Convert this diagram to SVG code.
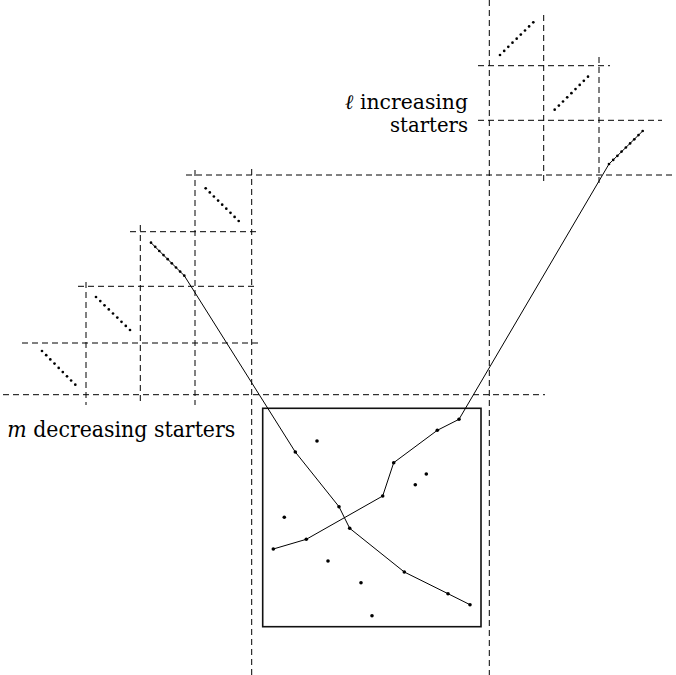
<svg xmlns="http://www.w3.org/2000/svg" width="676" height="675" viewBox="0 0 676 675">
<style>
.grid line{stroke:#000;stroke-width:1;stroke-dasharray:6 4;fill:none}
.box{fill:none;stroke:#111;stroke-width:1.6}
.conn{fill:none;stroke:#000;stroke-width:1}
.sd{fill:#000}
.pt{fill:#000}
.lbl{font-family:"DejaVu Serif","Liberation Serif",serif;font-size:22px;fill:#000}
.lbl2{font-family:"DejaVu Serif","Liberation Serif",serif;font-size:20.5px;fill:#000}
</style>
<defs>
<circle id="s" r="1.35" class="sd"/>
<circle id="p" r="1.8" class="pt"/>
</defs>
<rect width="676" height="675" fill="#fff"/>
<g id="grid" class="grid">
<line x1="3" y1="394.7" x2="545" y2="394.7"/>
<line x1="186" y1="175" x2="676" y2="175"/>
<line x1="130" y1="231.7" x2="258" y2="231.7"/>
<line x1="78" y1="286.3" x2="258" y2="286.3"/>
<line x1="22" y1="343" x2="258" y2="343"/>
<line x1="478" y1="65.7" x2="610" y2="65.7"/>
<line x1="478" y1="120.3" x2="662" y2="120.3"/>
<line x1="86" y1="282" x2="86" y2="405"/>
<line x1="140.3" y1="225" x2="140.3" y2="405"/>
<line x1="195" y1="170" x2="195" y2="405"/>
<line x1="251.7" y1="169" x2="251.7" y2="675"/>
<line x1="489.3" y1="0" x2="489.3" y2="675"/>
<line x1="543.7" y1="15" x2="543.7" y2="185"/>
<line x1="599" y1="57" x2="599" y2="185"/>
</g>
<g id="box">
<rect class="box" x="262.7" y="408.3" width="218.3" height="218.4"/>
</g>
<g id="connectors">
<polyline class="conn" points="151,242.7 184.3,275.7 295.3,452 339,506.7 349.7,528.3 404.3,572 448,593.7 470,604.7"/>
<polyline class="conn" points="642.7,131 609,164 459,419.3 437.3,430.3 393.7,462.7 382.7,496 306.3,539.3 273.3,549"/>
</g>
<g id="increasing-starters">
<g id="inc1">
<use href="#s" x="500" y="55"/><use href="#s" x="504.2" y="50.9"/><use href="#s" x="508.3" y="46.8"/><use href="#s" x="512.5" y="42.7"/><use href="#s" x="516.7" y="38.7"/><use href="#s" x="520.8" y="34.6"/><use href="#s" x="525" y="30.5"/><use href="#s" x="529.1" y="26.4"/><use href="#s" x="533.3" y="22.3"/>
</g>
<g id="inc2">
<use href="#s" x="554.7" y="109.7"/><use href="#s" x="558.9" y="105.6"/><use href="#s" x="563" y="101.5"/><use href="#s" x="567.2" y="97.3"/><use href="#s" x="571.4" y="93.2"/><use href="#s" x="575.5" y="89.1"/><use href="#s" x="579.7" y="84.9"/><use href="#s" x="583.8" y="80.8"/><use href="#s" x="588" y="76.7"/>
</g>
<g id="inc3">
<use href="#s" x="609" y="164"/><use href="#s" x="613.2" y="159.9"/><use href="#s" x="617.4" y="155.8"/><use href="#s" x="621.6" y="151.6"/><use href="#s" x="625.9" y="147.5"/><use href="#s" x="630.1" y="143.4"/><use href="#s" x="634.3" y="139.3"/><use href="#s" x="638.5" y="135.1"/><use href="#s" x="642.7" y="131"/>
</g>
</g>
<g id="decreasing-starters">
<g id="dec1">
<use href="#s" x="205.7" y="188.3"/><use href="#s" x="209.8" y="192.4"/><use href="#s" x="213.9" y="196.5"/><use href="#s" x="218.1" y="200.6"/><use href="#s" x="222.2" y="204.7"/><use href="#s" x="226.3" y="208.7"/><use href="#s" x="230.5" y="212.8"/><use href="#s" x="234.6" y="216.9"/><use href="#s" x="238.7" y="221"/>
</g>
<g id="dec2">
<use href="#s" x="151" y="242.7"/><use href="#s" x="155.2" y="246.8"/><use href="#s" x="159.3" y="251"/><use href="#s" x="163.5" y="255.1"/><use href="#s" x="167.7" y="259.2"/><use href="#s" x="171.8" y="263.3"/><use href="#s" x="176" y="267.5"/><use href="#s" x="180.1" y="271.6"/><use href="#s" x="184.3" y="275.7"/>
</g>
<g id="dec3">
<use href="#s" x="96" y="297"/><use href="#s" x="100.3" y="301.1"/><use href="#s" x="104.5" y="305.3"/><use href="#s" x="108.8" y="309.4"/><use href="#s" x="113" y="313.5"/><use href="#s" x="117.3" y="317.6"/><use href="#s" x="121.5" y="321.8"/><use href="#s" x="125.8" y="325.9"/><use href="#s" x="130" y="330"/>
</g>
<g id="dec4">
<use href="#s" x="42" y="351"/><use href="#s" x="46.2" y="355.2"/><use href="#s" x="50.3" y="359.4"/><use href="#s" x="54.5" y="363.6"/><use href="#s" x="58.7" y="367.9"/><use href="#s" x="62.8" y="372.1"/><use href="#s" x="67" y="376.3"/><use href="#s" x="71.1" y="380.5"/><use href="#s" x="75.3" y="384.7"/>
</g>
</g>
<g id="points">
<use href="#p" x="295.3" y="452"/><use href="#p" x="339" y="506.7"/><use href="#p" x="349.7" y="528.3"/><use href="#p" x="404.3" y="572"/><use href="#p" x="448" y="593.7"/><use href="#p" x="470" y="604.7"/>
<use href="#p" x="459" y="419.3"/><use href="#p" x="437.3" y="430.3"/><use href="#p" x="393.7" y="462.7"/><use href="#p" x="382.7" y="496"/><use href="#p" x="306.3" y="539.3"/><use href="#p" x="273.3" y="549"/>
<use href="#p" x="317" y="441"/><use href="#p" x="426.3" y="474"/><use href="#p" x="415.3" y="484.7"/><use href="#p" x="284.3" y="517.3"/><use href="#p" x="328" y="561"/><use href="#p" x="361" y="582.7"/><use href="#p" x="372" y="615.7"/>
</g>
<g id="label-increasing">
<text class="lbl2" x="345" y="108.5" textLength="123" lengthAdjust="spacingAndGlyphs"><tspan font-style="italic">ℓ</tspan> increasing</text>
<text class="lbl2" x="390" y="132" textLength="78" lengthAdjust="spacingAndGlyphs">starters</text>
</g>
<g id="label-decreasing">
<text class="lbl" x="7.3" y="437" textLength="228" lengthAdjust="spacingAndGlyphs"><tspan font-style="italic">m</tspan> decreasing starters</text>
</g>
</svg>
